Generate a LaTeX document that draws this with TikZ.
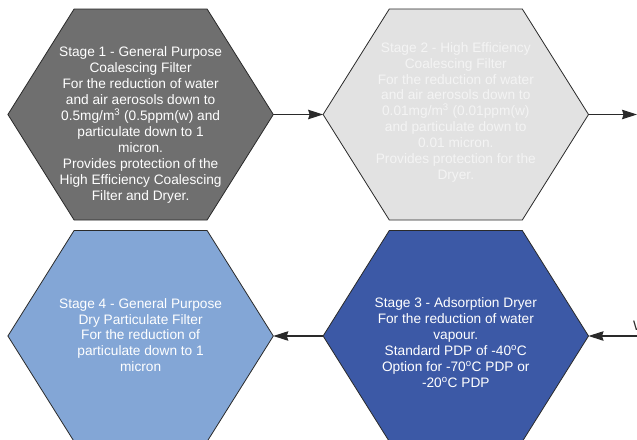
\documentclass[tikz,border=0pt]{standalone}
\usepackage{fontspec}
\setmainfont{Liberation Sans}
\usetikzlibrary{arrows.meta}
\definecolor{hexA}{HTML}{6F6F6F}
\definecolor{hexB}{HTML}{E2E2E2}
\definecolor{hexC}{HTML}{3C59A6}
\definecolor{hexD}{HTML}{83A6D6}
\definecolor{txtB}{HTML}{F4F4F4}
\definecolor{edge}{HTML}{2A2A2A}
\begin{document}
\begin{tikzpicture}[x=1pt,y=-1pt,
  hexshape/.style={draw=edge,line width=0.8pt,line join=miter},
  stagetext/.style={align=center,inner sep=0pt,font=\fontsize{13.7}{15.9}\selectfont},
  flow/.style={draw=edge,line width=1.1pt,-{Stealth[length=15pt,width=9.5pt,inset=1.5pt]}}]
\useasboundingbox (0,0) rectangle (637,439);
\fill[white] (0,0) rectangle (637,439);
% hexagon geometry: half width 132.7, top half 66.5, half height 105.5
\def\hw{132.7}\def\th{66.5}\def\hh{105.5}
\foreach \n/\cx/\cy/\col in {h1/140.6/114.5/hexA, h2/455.8/114.5/hexB, h3/455.8/336/hexC, h4/140.6/336/hexD}{
  \path[hexshape,fill=\col] (\cx-\hw,\cy) -- (\cx-\th,\cy-\hh) -- (\cx+\th,\cy-\hh) -- (\cx+\hw,\cy) -- (\cx+\th,\cy+\hh) -- (\cx-\th,\cy+\hh) -- cycle;
  \coordinate (\n l) at (\cx-\hw,\cy);
  \coordinate (\n r) at (\cx+\hw,\cy);
}
\node[stagetext,text=white] (t1) at (140.6,125) {Stage 1 - General Purpose\\Coalescing Filter\\For the reduction of water\\and air aerosols down to\\0.5mg/m\textsuperscript{3} (0.5ppm(w) and\\particulate down to 1\\micron.\\Provides protection of the\\High Efficiency Coalescing\\Filter and Dryer.};
\node[stagetext,text=txtB] (t2) at (455.8,112.3) {Stage 2 - High Efficiency\\Coalescing Filter\\For the reduction of water\\and air aerosols down to\\0.01mg/m\textsuperscript{3} (0.01ppm(w)\\and particulate down to\\0.01 micron.\\Provides protection for the\\Dryer.};
\node[stagetext,text=white] (t3) at (455.8,342.8) {Stage 3 - Adsorption Dryer\\For the reduction of water\\vapour.\\Standard PDP of -40\textsuperscript{o}C\\Option for -70\textsuperscript{o}C PDP or\\-20\textsuperscript{o}C PDP};
\node[stagetext,text=white] (t4) at (140.6,335) {Stage 4 - General Purpose\\Dry Particulate Filter\\For the reduction of\\particulate down to 1\\micron};
\coordinate (outR) at (637,114.5);
\coordinate (inR) at (645,336);
\node[anchor=base west,inner sep=0pt,text=edge,font=\fontsize{13.7}{15.9}\selectfont] (wfrag) at (633,330) {W};
\draw[flow] (h1r) -- (h2l);
\draw[flow] (h2r) -- (outR);
\draw[flow] (inR) -- (h3r);
\draw[flow] (h3l) -- (h4r);
\end{tikzpicture}
\end{document}
